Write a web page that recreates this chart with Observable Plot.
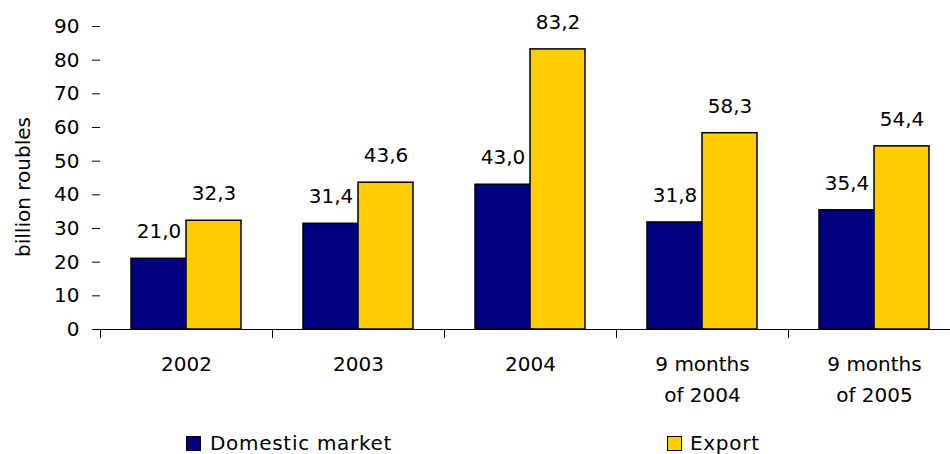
<!DOCTYPE html>
<html>
<head>
<meta charset="utf-8">
<script src="https://cdn.jsdelivr.net/npm/d3@7"></script>
<script src="https://cdn.jsdelivr.net/npm/@observablehq/plot@0.6"></script>
<style>
  html, body { margin: 0; padding: 0; background: #fff; overflow: hidden; }
  #wrap { position: relative; width: 950px; height: 454px; overflow: hidden; font-family: "DejaVu Sans", sans-serif; }
  .swatch { position: absolute; width: 13px; height: 13px; border: 1px solid #000; }
  .legend-text { position: absolute; font-size: 20px; line-height: 20px; color: #000; white-space: nowrap; letter-spacing: 0.7px; }
</style>
</head>
<body>
<div id="wrap"></div>
<script>
const categories = ["2002", "2003", "2004", "9 months\nof 2004", "9 months\nof 2005"];
const series = ["Domestic market", "Export"];
const domestic = [21.0, 31.4, 43.0, 31.8, 35.4];
const exportValues = [32.3, 43.6, 83.2, 58.3, 54.4];
const yTicks = [0, 10, 20, 30, 40, 50, 60, 70, 80, 90];
const yTitle = "billion roubles";
const colors = ["#000080", "#FFCC00"];

const rows = [];
categories.forEach((c, i) => {
  rows.push({category: c, series: series[0], value: domestic[i]});
  rows.push({category: c, series: series[1], value: exportValues[i]});
});
const fmt = v => v.toFixed(1).replace(".", ",");

const H = 420, marginTop = 26, marginBottom = 91;
const plotH = H - marginTop - marginBottom;

const chart = Plot.plot({
  width: 960,
  height: H,
  marginLeft: 100,
  marginRight: 0,
  marginTop,
  marginBottom,
  style: {fontFamily: "DejaVu Sans", fontSize: "20px", color: "#000", background: "#fff", maxWidth: "none"},
  fx: {domain: categories, padding: 0},
  x: {domain: series, paddingInner: 0, paddingOuter: 0.536, axis: null},
  y: {domain: [0, 90]},
  color: {domain: series, range: colors},
  marks: [
    Plot.frame({anchor: "left", insetTop: plotH, insetBottom: -8, stroke: "#000", strokeWidth: 1}),
    Plot.barY(rows, {fx: "category", x: "series", y: "value", fill: "series", stroke: "#000", strokeWidth: 1.5}),
    Plot.text(rows, {fx: "category", x: "series", y: "value", text: d => fmt(d.value), dy: -27, fontSize: 20, fill: "#000"}),
    Plot.ruleY([0], {stroke: "#000", strokeWidth: 1}),
    Plot.axisY({ticks: yTicks, tickSize: 8, tickPadding: 13, line: true, label: null, fontSize: 20}),
    Plot.text([yTitle], {fx: () => categories[0], text: d => d, frameAnchor: "left", textAnchor: "middle", rotate: -90, dx: -77, dy: 9, fontSize: 20, fill: "#000"}),
    Plot.axisFx({anchor: "bottom", tickSize: 0, tickPadding: 19, lineHeight: 1.55, label: null, fontSize: 20})
  ]
});

const wrap = document.getElementById("wrap");
wrap.appendChild(chart);

const swatchPos = [{left: 186, top: 436}, {left: 667, top: 436}];
const textPos = [{left: 210, top: 433}, {left: 690, top: 433}];
series.forEach((s, i) => {
  const sw = document.createElement("div");
  sw.className = "swatch";
  sw.style.left = swatchPos[i].left + "px";
  sw.style.top = swatchPos[i].top + "px";
  sw.style.background = colors[i];
  const t = document.createElement("div");
  t.className = "legend-text";
  t.style.left = textPos[i].left + "px";
  t.style.top = textPos[i].top + "px";
  t.textContent = s;
  wrap.appendChild(sw);
  wrap.appendChild(t);
});
</script>
</body>
</html>
